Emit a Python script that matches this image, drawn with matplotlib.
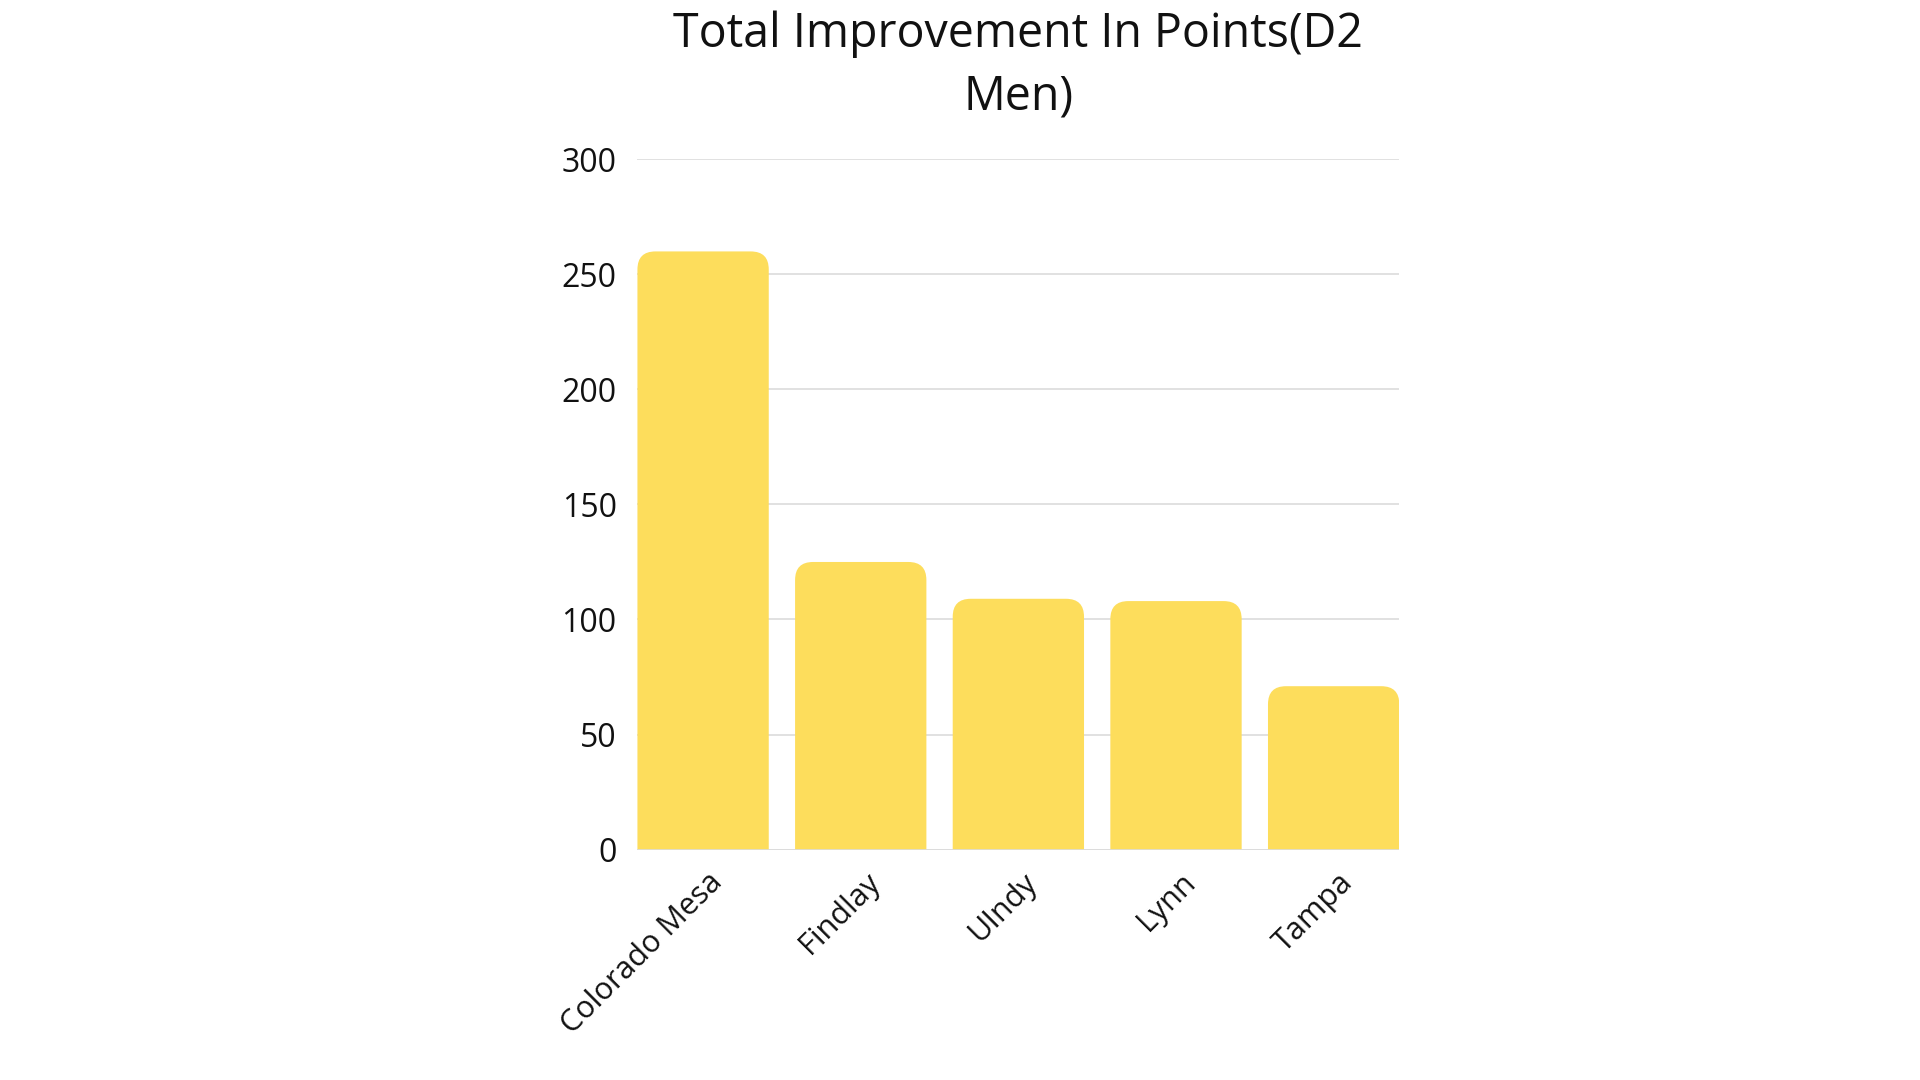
import matplotlib

matplotlib.use("Agg")
import matplotlib.pyplot as plt
from matplotlib.patches import FancyBboxPatch
from matplotlib.transforms import ScaledTranslation

plt.rcParams["font.family"] = ["Open Sans", "DejaVu Sans"]

# data
teams = ["Colorado Mesa", "Findlay", "UIndy", "Lynn", "Tampa"]
points = [260, 125, 109, 108, 71]
y_ticks = [0, 50, 100, 150, 200, 250, 300]

BAR = "#fddd5c"
GRID = "#dcdcdc"
INK = "#111111"

fig = plt.figure(figsize=(19.2, 10.8), dpi=100, facecolor="white")
ax = fig.add_axes([0.332, 0.2134, 0.3968, 0.639])

width = 0.833
ax.set_xlim(-width / 2, len(teams) - 1 + width / 2)
ax.set_ylim(0, 300)

# rounded top corners: compute aspect so the corners look circular
fig.canvas.draw()
bbox = ax.get_window_extent()
x_per_px = (ax.get_xlim()[1] - ax.get_xlim()[0]) / bbox.width
y_per_px = (ax.get_ylim()[1] - ax.get_ylim()[0]) / bbox.height
aspect = y_per_px / x_per_px
radius_px = 18
radius = radius_px * x_per_px

for i, value in enumerate(points):
    patch = FancyBboxPatch(
        (i - width / 2, -40),
        width,
        value + 40,
        boxstyle=f"round,pad=0,rounding_size={radius}",
        mutation_aspect=aspect,
        facecolor=BAR,
        edgecolor="none",
        zorder=2,
    )
    ax.add_patch(patch)

ax.set_yticks(y_ticks)
ax.set_xticks(range(len(teams)))
ax.set_xticklabels(teams)
ax.grid(axis="y", color=GRID, linewidth=1.2, zorder=0)
ax.set_axisbelow(True)
ax.axhline(0, color=GRID, linewidth=1.2, zorder=3)
for side in ax.spines.values():
    side.set_visible(False)
ax.tick_params(axis="both", length=0, colors=INK)
ax.tick_params(axis="y", pad=15, labelsize=23)
ax.tick_params(axis="x", pad=13, labelsize=22)

offset = ScaledTranslation(3 / 72, 0, fig.dpi_scale_trans)
for label in ax.get_xticklabels():
    label.set_rotation(45)
    label.set_ha("right")
    label.set_va("top")
    label.set_rotation_mode("anchor")
    label.set_transform(label.get_transform() + offset)

ax.set_title(
    "Total Improvement In Points(D2\nMen)",
    fontsize=33.5,
    color=INK,
    pad=36,
    linespacing=1.4,
)

fig.savefig("out.png", dpi=100, facecolor="white")
